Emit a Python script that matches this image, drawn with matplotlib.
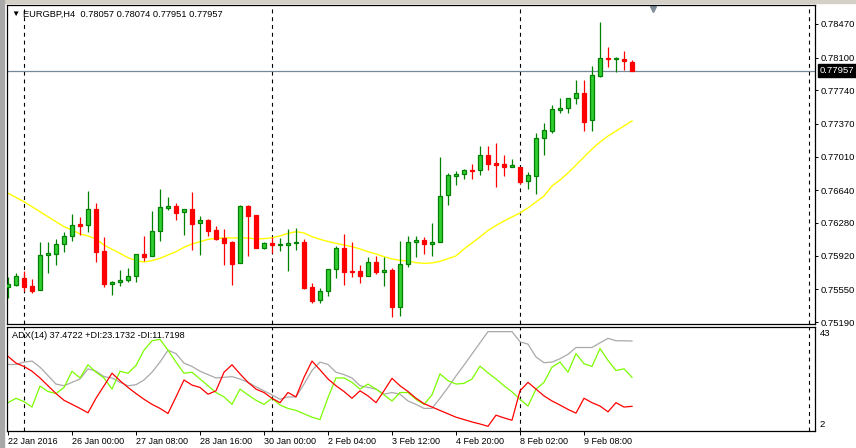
import numpy as np
import matplotlib.pyplot as plt
from matplotlib.patches import Rectangle
from matplotlib.transforms import blended_transform_factory

plt.rcParams['font.family'] = ['Liberation Sans', 'DejaVu Sans']

# EURGBP H4 bars
opens = [0.75572, 0.75601, 0.75674, 0.75586, 0.75539, 0.75924, 0.75935, 0.76045, 0.76133, 0.76266,
         0.76255, 0.76431, 0.75972, 0.75612, 0.75627, 0.75649, 0.75693, 0.75939, 0.75913, 0.76189,
         0.76442, 0.76467, 0.76398, 0.76431, 0.76277, 0.76313, 0.76200, 0.76111, 0.76071, 0.75836,
         0.76467, 0.76368, 0.76008, 0.76060, 0.76041, 0.76041, 0.76056, 0.76074, 0.75575, 0.75429,
         0.75528, 0.75770, 0.76005, 0.75755, 0.75752, 0.75693, 0.75851, 0.75744, 0.75763, 0.75359,
         0.75825, 0.76074, 0.76093, 0.76052, 0.76067, 0.76585, 0.76800, 0.76816, 0.76867, 0.76860,
         0.77025, 0.76943, 0.76926, 0.76900, 0.76896, 0.76739, 0.76800, 0.77212, 0.77289, 0.77527,
         0.77542, 0.77652, 0.77711, 0.77410, 0.77901, 0.78096, 0.78082, 0.78085, 0.78057]
highs = [0.75689, 0.75726, 0.75748, 0.75663, 0.76071, 0.76071, 0.76107, 0.76178, 0.76379, 0.76349,
         0.76632, 0.76500, 0.76122, 0.75645, 0.75763, 0.75785, 0.75939, 0.76137, 0.76412, 0.76654,
         0.76566, 0.76500, 0.76431, 0.76621, 0.76357, 0.76324, 0.76247, 0.76214, 0.76082, 0.76475,
         0.76478, 0.76368, 0.76071, 0.76122, 0.76115, 0.76214, 0.76225, 0.76104, 0.75619, 0.75564,
         0.75770, 0.76027, 0.76159, 0.76071, 0.75818, 0.75909, 0.75920, 0.75909, 0.75785, 0.76082,
         0.76137, 0.76137, 0.76126, 0.76280, 0.77006, 0.76830, 0.76852, 0.76871, 0.76932, 0.77127,
         0.77124, 0.77160, 0.77028, 0.76984, 0.76896, 0.76838, 0.77274, 0.77380, 0.77579, 0.77656,
         0.77652, 0.77854, 0.77854, 0.78008, 0.78492, 0.78217, 0.78104, 0.78173, 0.78074]
lows = [0.75451, 0.75586, 0.75535, 0.75513, 0.75539, 0.75733, 0.75821, 0.75964, 0.76082, 0.76148,
        0.76184, 0.75854, 0.75579, 0.75491, 0.75586, 0.75627, 0.75627, 0.75858, 0.75913, 0.76082,
        0.76423, 0.76316, 0.76148, 0.75986, 0.75931, 0.76137, 0.76093, 0.75821, 0.75601, 0.75836,
        0.75917, 0.76008, 0.75994, 0.75950, 0.75975, 0.75755, 0.75986, 0.75557, 0.75403, 0.75403,
        0.75480, 0.75678, 0.75601, 0.75689, 0.75623, 0.75693, 0.75715, 0.75590, 0.75249, 0.75260,
        0.75799, 0.75909, 0.75939, 0.75920, 0.76067, 0.76481, 0.76701, 0.76764, 0.76764, 0.76805,
        0.76867, 0.76679, 0.76800, 0.76900, 0.76712, 0.76651, 0.76596, 0.77025, 0.77270, 0.77487,
        0.77494, 0.77593, 0.77296, 0.77296, 0.77890, 0.78000, 0.77939, 0.77964, 0.77951]
closes = [0.75605, 0.75693, 0.75579, 0.75535, 0.75924, 0.75950, 0.76045, 0.76133, 0.76255, 0.76250,
          0.76431, 0.75957, 0.75612, 0.75627, 0.75652, 0.75693, 0.75935, 0.75909, 0.76189, 0.76453,
          0.76463, 0.76393, 0.76431, 0.76272, 0.76310, 0.76195, 0.76107, 0.76063, 0.75832, 0.76463,
          0.76360, 0.76008, 0.76060, 0.76041, 0.76052, 0.76060, 0.76074, 0.75564, 0.75425, 0.75528,
          0.75770, 0.76005, 0.75744, 0.75741, 0.75700, 0.75847, 0.75744, 0.75763, 0.75359, 0.75825,
          0.76067, 0.76096, 0.76052, 0.76071, 0.76574, 0.76805, 0.76822, 0.76860, 0.76855, 0.77025,
          0.76932, 0.76921, 0.76896, 0.76915, 0.76734, 0.76805, 0.77212, 0.77300, 0.77531, 0.77546,
          0.77652, 0.77711, 0.77395, 0.77906, 0.78093, 0.78082, 0.78093, 0.78060, 0.77957]
ma = [0.76607, 0.76561, 0.76514, 0.76459, 0.76404, 0.76349, 0.76294, 0.76239, 0.76203, 0.76159,
      0.76137, 0.76104, 0.76038, 0.75990, 0.75946, 0.75898, 0.75865, 0.75851, 0.75865, 0.75891,
      0.75928, 0.75964, 0.76012, 0.76049, 0.76074, 0.76100, 0.76111, 0.76115, 0.76115, 0.76115,
      0.76115, 0.76104, 0.76107, 0.76118, 0.76137, 0.76166, 0.76184, 0.76170, 0.76129, 0.76100,
      0.76076, 0.76056, 0.76038, 0.76019, 0.75994, 0.75964, 0.75939, 0.75909, 0.75884, 0.75869,
      0.75862, 0.75843, 0.75836, 0.75840, 0.75858, 0.75887, 0.75917, 0.75994, 0.76060, 0.76126,
      0.76197, 0.76252, 0.76302, 0.76346, 0.76390, 0.76445, 0.76511, 0.76577, 0.76687, 0.76753,
      0.76830, 0.76918, 0.77006, 0.77094, 0.77171, 0.77237, 0.77292, 0.77347, 0.77403]

adx = [28.24, 28.24, 29.17, 29.57, 27.17, 23.84, 20.51, 19.84, 21.17, 22.51,
       26.51, 25.57, 23.44, 22.91, 21.17, 19.84, 20.24, 22.11, 25.17, 29.17,
       33.84, 32.51, 28.77, 27.44, 25.57, 24.24, 22.91, 23.17, 23.44, 22.51,
       21.17, 19.44, 17.84, 16.24, 14.51, 15.44, 15.44, 20.51, 25.84, 29.17,
       28.24, 25.17, 24.24, 22.91, 19.84, 19.17, 18.51, 16.51, 17.17, 16.51,
       13.84, 12.51, 10.91, 10.91, 14.91, 19.17, 23.71, 27.97, 32.37, 36.77,
       41.17, 41.17, 41.17, 41.17, 37.17, 36.24, 31.17, 28.91, 29.17, 30.51,
       32.24, 34.91, 34.91, 34.91, 36.77, 38.51, 37.57, 37.57, 37.47]
plus_di = [13.17, 14.91, 13.57, 11.44, 19.71, 17.57, 16.77, 19.17, 25.57, 22.91,
           28.11, 25.17, 22.91, 18.51, 25.57, 24.77, 27.84, 33.84, 37.57, 38.11,
           33.84, 29.17, 24.77, 25.17, 22.51, 19.84, 17.17, 15.44, 12.51, 18.51,
           16.24, 14.11, 12.51, 14.91, 12.24, 10.91, 10.11, 8.77, 7.44, 6.51,
           15.17, 22.91, 22.91, 21.17, 18.51, 20.51, 18.51, 16.24, 13.84, 17.17,
           17.17, 14.51, 12.51, 16.24, 24.51, 21.84, 20.51, 20.77, 22.51, 27.57,
           24.91, 22.51, 19.84, 17.44, 14.51, 11.84, 18.51, 21.17, 27.17, 29.17,
           25.17, 32.51, 28.51, 27.44, 34.51, 29.84, 25.84, 26.51, 23.17]
minus_di = [31.44, 28.77, 27.44, 25.57, 22.91, 19.84, 16.77, 14.11, 12.51, 10.91,
            9.17, 14.91, 19.84, 24.77, 21.84, 19.17, 16.77, 14.51, 12.51, 10.91,
            8.91, 15.44, 22.11, 20.11, 19.17, 16.51, 17.84, 25.17, 28.11, 24.51,
            21.17, 18.51, 17.17, 14.91, 13.17, 17.17, 15.44, 23.17, 29.57, 26.11,
            22.51, 19.84, 17.57, 14.91, 17.84, 15.84, 13.17, 17.84, 22.77, 19.84,
            17.57, 14.91, 12.77, 11.44, 10.11, 8.77, 7.44, 6.51, 5.57, 4.77,
            3.84, 8.24, 7.17, 6.24, 17.84, 21.17, 18.51, 15.84, 13.84, 12.24,
            10.51, 9.04, 14.91, 13.17, 11.84, 9.57, 13.17, 11.44, 11.72]

price_ticks = [0.78470, 0.78100, 0.77740, 0.77370, 0.77010, 0.76640, 0.76280, 0.75920, 0.75550, 0.75190]
time_bars = [0, 8, 16, 24, 32, 40, 48, 56, 64, 72]
time_labels = ['22 Jan 2016', '26 Jan 00:00', '27 Jan 08:00', '28 Jan 16:00', '30 Jan 00:00',
               '2 Feb 04:00', '3 Feb 12:00', '4 Feb 20:00', '8 Feb 02:00', '9 Feb 08:00']
separator_bars = [2, 33, 64]
shift_bar = 100.125

o = np.array(opens)
h = np.array(highs)
l = np.array(lows)
c = np.array(closes)
x = np.arange(len(c))
up = c >= o

W, H = 856, 448
fig = plt.figure(figsize=(W / 100, H / 100), dpi=100)
fig.patch.set_facecolor('white')
fig.patches.append(Rectangle((0, 1 - 3 / H), 1, 3 / H, transform=fig.transFigure, color='#d4d0c8'))
fig.patches.append(Rectangle((0, 0), 4 / W, 1, transform=fig.transFigure, color='#a8a8a8'))

ax = fig.add_axes([7 / W, 1 - 324 / H, 808 / W, 319 / H])
ax2 = fig.add_axes([7 / W, 1 - 431 / H, 808 / W, 104 / H])

for a in (ax, ax2):
    a.set_xlim(-0.125, 100.875)
    for s in a.spines.values():
        s.set_linewidth(0.9)
        s.set_color('black')
    for b in separator_bars + [shift_bar]:
        a.axvline(b, color='black', lw=0.8, ls=(0, (3.5, 3.5)), zorder=1)

# price panel
ax.set_ylim(0.75168, 0.78679)
ax.plot(x, ma, color='#ffff00', lw=1.0, zorder=2)
ax.axhline(c[-1], color='#778899', lw=0.9, zorder=2)
wick_col = np.where(up, '#008000', '#ff0000')
ax.vlines(x, l, h, colors=wick_col, lw=0.9, zorder=3)
ax.bar(x, np.abs(c - o), bottom=np.minimum(o, c), width=0.5,
       color=np.where(up, '#32cd32', '#ff0000'), edgecolor=wick_col, linewidth=0.9, zorder=4)

ax.set_xticks([])
ax.yaxis.tick_right()
ax.set_yticks(price_ticks)
ax.set_yticklabels([f'{p:.5f}' for p in price_ticks])
ax.tick_params(axis='y', length=2.5, width=0.7, pad=1.5, labelsize=6.8)

ax.annotate(f'{c[-1]:.5f}', xy=(1, c[-1]), xycoords=('axes fraction', 'data'),
            xytext=(3.2, 0), textcoords='offset points', va='center', ha='left',
            fontsize=6.8, color='white',
            bbox=dict(boxstyle='square,pad=0.2', fc='black', ec='black'))

tr = blended_transform_factory(ax.transData, ax.transAxes)
ax.plot([80.6], [0.988], marker='v', color='#7f8c99', markersize=4.5, transform=tr, clip_on=False)

fig.text(11 / W, 1 - 14 / H, '\u25bc', fontsize=6, va='center')
fig.text(23 / W, 1 - 14 / H, 'EURGBP,H4  0.78057 0.78074 0.77951 0.77957', fontsize=6.7, va='center')

# ADX panel
ax2.set_ylim(2, 43)
ax2.plot(x, adx, color='#a9a9a9', lw=0.9)
ax2.plot(x, plus_di, color='#7cfc00', lw=0.9)
ax2.plot(x, minus_di, color='#ff0000', lw=0.9)
ax2.set_yticks([])
ax2.text(1.006, 0.933, '43', transform=ax2.transAxes, fontsize=6.8, va='center')
ax2.text(1.006, 0.058, '2', transform=ax2.transAxes, fontsize=6.8, va='center')
ax2.set_xticks(time_bars)
ax2.set_xticklabels(time_labels, ha='left')
ax2.tick_params(axis='x', length=3, width=0.7, pad=1.5, labelsize=6.5)

fig.text(12 / W, 1 - 335.7 / H, 'ADX(14) 37.4722 +DI:23.1732 -DI:11.7198', fontsize=6.6, va='center')

fig.savefig('out.png', dpi=100)
